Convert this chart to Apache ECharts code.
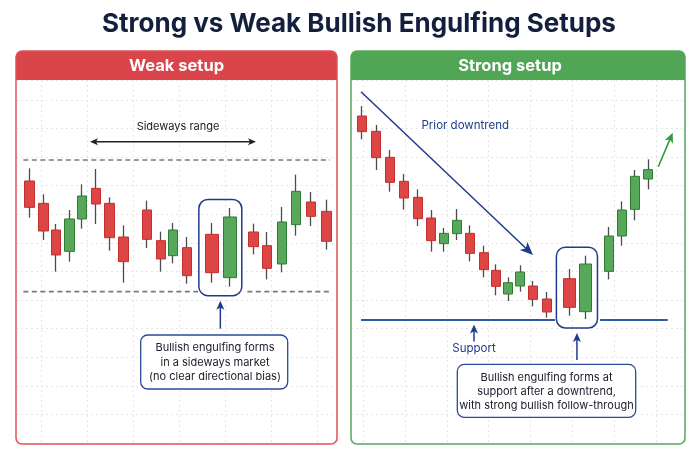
<!DOCTYPE html>
<html><head><meta charset="utf-8">
<script src="https://cdn.jsdelivr.net/npm/echarts@6/dist/echarts.min.js"></script>
<style>html,body{margin:0;padding:0;background:#fff}#c{width:700px;height:466px}</style>
</head><body><div id="c"></div>
<script>
// ---------- Weak setup (left panel) ----------
const weakPos   = [0, 1.0, 1.9, 2.9, 3.8, 4.8, 5.8, 6.8, 8.5, 9.5, 10.4, 11.4, 13.2, 14.5, 16.2, 17.2, 18.3, 19.3, 20.4, 21.5];
const weakOpen  = [113.2, 106.5, 98.5, 92.1, 101.8, 111, 106.5, 96.4, 104.5, 95.3, 90.8, 93.2, 97.2, 84.2, 97.9, 93.8, 88.3, 100.1, 106.9, 104.1];
const weakClose = [105.3, 98.2, 91, 101.8, 108.7, 106.3, 96.2, 89, 95.7, 89.8, 98.5, 84.8, 85.7, 102.4, 93.5, 87, 100.9, 110.1, 102.6, 95.1];
const weakLow   = [102.2, 95.5, 86, 89, 98.9, 100.3, 92.3, 82.7, 93.1, 86, 88.5, 82.4, 82.7, 81.5, 91.2, 83.7, 85.8, 96.8, 99.7, 92.6];
const weakHigh  = [117, 109.2, 100.3, 104.5, 112.2, 116.8, 108.3, 99.9, 107.3, 98, 100.6, 96.4, 100.6, 105.1, 100.4, 97.9, 105.4, 115.1, 109.9, 107.6];
const weakEngulf = [12, 13];
const weakRangeTop = 119.5;
const weakRangeBottom = 80;

// ---------- Strong setup (right panel) ----------
const strongPos   = [0, 1.1, 2.1, 3.15, 4.2, 5.2, 6.15, 7.1, 8.1, 9.1, 10, 10.95, 11.85, 12.8, 13.8, 15.5, 16.7, 18.45, 19.4, 20.4, 21.4];
const strongOpen  = [145.2, 140.6, 132.8, 125.6, 120.8, 114.6, 106.9, 109.9, 110, 104.2, 98.9, 91.8, 94.2, 94.2, 90.3, 96.4, 86.5, 98.6, 109.2, 117.2, 126.3];
const strongClose = [140.5, 132.7, 125.3, 120.6, 114.4, 107.8, 110, 113.9, 104, 99.1, 94.1, 95.2, 98.4, 90.2, 86.4, 87.8, 100.8, 109.2, 117, 127.1, 129.1];
const strongLow   = [138.2, 129, 122.5, 117.1, 112.2, 104.5, 104.5, 108, 101.6, 96.8, 91.4, 89.7, 92.5, 88.1, 84.7, 85.3, 84.3, 96.2, 106.3, 113.9, 123.2];
const strongHigh  = [148.2, 142.5, 135, 127.8, 123.2, 117, 111.6, 117.3, 112.4, 106.3, 100.7, 96.8, 100.4, 95.7, 92.4, 99.3, 103.3, 111.9, 119.6, 129, 132.2];
const strongEngulf = [15, 16];
const strongSupport = 84;

// ---------- Texts ----------
const titleText = 'Strong vs Weak Bullish Engulfing Setups';
const weakHeader = 'Weak setup';
const strongHeader = 'Strong setup';
const weakNote = ['Bullish engulfing forms', 'in a sideways market', '(no clear directional bias)'];
const strongNote = ['Bullish engulfing forms at', 'support after a downtrend,', 'with strong bullish follow-through'];

const FONT = 'Inter, "Liberation Sans", Arial, sans-serif';
const RED = '#de4646', RED_B = '#c0302f', GREEN = '#58a85c', GREEN_B = '#2e7d32', WICK = '#4d4d4d';
const NAVY = '#1f3c8c';

const chart = echarts.init(document.getElementById('c'));

function wickData(pos, lo, hi) { return pos.map((x, i) => [x, lo[i], lo[i], lo[i], hi[i]]); }
function bodyData(pos, o, c, idx) { return idx.map(i => [pos[i], o[i], c[i], Math.min(o[i], c[i]), Math.max(o[i], c[i])]); }
function others(n, ex) { const r = []; for (let i = 0; i < n; i++) if (!ex.includes(i)) r.push(i); return r; }

const wickStyle = { color: WICK, color0: WICK, borderColor: WICK, borderColor0: WICK, borderColorDoji: WICK, borderWidth: 1.3 };
const bodyStyle = { color: GREEN, color0: RED, borderColor: GREEN_B, borderColor0: RED_B, borderWidth: 1 };

function candleSeries(grid, pos, o, c, lo, hi, eng, w, wEng) {
  return [
    { type: 'candlestick', xAxisIndex: grid, yAxisIndex: grid, barWidth: 1, data: wickData(pos, lo, hi), itemStyle: wickStyle, silent: true, z: 3 },
    { type: 'candlestick', xAxisIndex: grid, yAxisIndex: grid, barWidth: w, data: bodyData(pos, o, c, others(pos.length, eng)), itemStyle: bodyStyle, silent: true, z: 4 },
    { type: 'candlestick', xAxisIndex: grid, yAxisIndex: grid, barWidth: wEng, data: bodyData(pos, o, c, eng), itemStyle: bodyStyle, silent: true, z: 4 }
  ];
}
function hLine(grid, x0, x1, y, style) {
  return { type: 'line', xAxisIndex: grid, yAxisIndex: grid, data: [[x0, y], [x1, y]], symbol: 'none', silent: true, lineStyle: style, z: 2 };
}
const dashStyle = { color: '#7a7a7a', type: [5, 3.5], width: 1.6 };
const supStyle = { color: '#2f58a6', width: 2 };

const gridLine = { show: true, lineStyle: { color: '#e6e6e6', type: [2, 3], width: 1 } };
const hiddenAxis = (grid, min, max) => ({ type: 'value', gridIndex: grid, show: false, min, max });
const gridAxis = (grid, max) => ({ type: 'value', gridIndex: grid, min: 0, max, interval: 1,
  axisLine: { show: false }, axisTick: { show: false }, axisLabel: { show: false }, splitLine: gridLine });

chart.setOption({
  animation: false,
  backgroundColor: '#ffffff',
  title: { text: titleText, left: 97, top: 6,
    textStyle: { fontSize: 26, fontWeight: 'bold', color: '#13203d', fontFamily: FONT } },
  grid: [
    { left: 16, top: 80, width: 321, height: 363 },      // left bg horizontal lines
    { left: 41.3, top: 80, width: 295.7, height: 363 },  // left bg vertical lines
    { left: 351, top: 80, width: 334, height: 363 },     // right bg horizontal lines
    { left: 363.2, top: 80, width: 321.8, height: 363 }, // right bg vertical lines
    { left: 15.9, top: 75, width: 324.3, height: 333.33 }, // left candles
    { left: 348.3, top: 66.67, width: 348.4, height: 300 } // right candles
  ],
  xAxis: [
    hiddenAxis(0, 0, 1), gridAxis(1, 295.7 / 46), hiddenAxis(2, 0, 1), gridAxis(3, 321.8 / 41.8),
    hiddenAxis(4, -1, 22.5), hiddenAxis(5, -1, 25)
  ],
  yAxis: [
    gridAxis(0, 363 / 28.6), hiddenAxis(1, 0, 1), gridAxis(2, 363 / 28.6), hiddenAxis(3, 0, 1),
    hiddenAxis(4, 45, 145), hiddenAxis(5, 70, 160)
  ],
  series: [
    hLine(4, -0.46, 21.76, weakRangeTop, dashStyle),
    hLine(4, -0.46, 12.2, weakRangeBottom, dashStyle),
    hLine(4, 15.77, 21.76, weakRangeBottom, dashStyle),
    hLine(5, -0.05, 14.43, strongSupport, supStyle),
    hLine(5, 17.79, 22.84, strongSupport, supStyle),
    ...candleSeries(4, weakPos, weakOpen, weakClose, weakLow, weakHigh, weakEngulf, 10, 13),
    ...candleSeries(5, strongPos, strongOpen, strongClose, strongLow, strongHigh, strongEngulf, 9.5, 12)
  ]
});

// ---------- Annotations (positioned through the axes) ----------
function px(grid, x, y) { return chart.convertToPixel({ gridIndex: grid }, [x, y]); }
function engulfBox(grid, pos, lo, hi, idx) {
  const xs = idx.map(i => px(grid, pos[i], 0)[0]);
  const top = px(grid, 0, Math.max(...idx.map(i => hi[i])))[1];
  const bot = px(grid, 0, Math.min(...idx.map(i => lo[i])))[1];
  const x0 = Math.min(...xs) - 13, x1 = Math.max(...xs) + 12;
  return { x: x0, y: top - 8.5, w: x1 - x0, h: bot - top + 17.5 };
}
function arrow(p1, p2, color, w, hl, hw, both) {
  const dx = p2[0] - p1[0], dy = p2[1] - p1[1], L = Math.hypot(dx, dy), ux = dx / L, uy = dy / L;
  const head = (t, ux, uy) => ({ type: 'polygon', z: 60, silent: true,
    shape: { points: [t, [t[0] - ux * hl - uy * hw / 2, t[1] - uy * hl + ux * hw / 2], [t[0] - ux * hl * 0.75, t[1] - uy * hl * 0.75], [t[0] - ux * hl + uy * hw / 2, t[1] - uy * hl - ux * hw / 2]] },
    style: { fill: color } });
  const s = both ? [p1[0] + ux * hl * 0.7, p1[1] + uy * hl * 0.7] : p1;
  const e = [p2[0] - ux * hl * 0.7, p2[1] - uy * hl * 0.7];
  const els = [{ type: 'line', z: 60, silent: true, shape: { x1: s[0], y1: s[1], x2: e[0], y2: e[1] }, style: { stroke: color, lineWidth: w } }, head(p2, ux, uy)];
  if (both) els.push(head(p1, -ux, -uy));
  return els;
}
function txt(text, x, y, size, color, weight, align) {
  return { type: 'text', z: 70, silent: true, style: { text, x, y, align: align || 'center', verticalAlign: 'middle',
    fontSize: size, fontFamily: FONT, fontWeight: weight || 'normal', fill: color } };
}
function noteBox(x, y, w, h, lines, cx, ys) {
  const els = [{ type: 'rect', z: 65, silent: true, shape: { x, y, width: w, height: h, r: 7 }, style: { fill: '#fff', stroke: '#2a4a9a', lineWidth: 1.3 } }];
  lines.forEach((l, i) => els.push(txt(l, cx, ys[i], 11, '#1b1b2a')));
  return els;
}
function panel(x, y, w, h, color, fill, label, lx) {
  return [
    { type: 'rect', z: 50, silent: true, shape: { x, y, width: w, height: 29, r: [6, 6, 0, 0] }, style: { fill } },
    { type: 'rect', z: 51, silent: true, shape: { x, y, width: w, height: h, r: 6 }, style: { fill: 'none', stroke: color, lineWidth: 1.5 } },
    txt(label, lx, y + 15, 16.5, '#ffffff', 'bold')
  ];
}

const wb = engulfBox(4, weakPos, weakLow, weakHigh, weakEngulf);
const sb = engulfBox(5, strongPos, strongLow, strongHigh, strongEngulf);
const wcx = wb.x + wb.w / 2, scx = sb.x + sb.w / 2;

const elements = [
  ...panel(16, 51, 321, 393, '#dc5457', '#d9454a', weakHeader, 176.5),
  ...panel(351, 51, 334, 393, '#55a85a', '#50a655', strongHeader, 510),
  { type: 'rect', z: 55, silent: true, shape: { x: wb.x, y: wb.y, width: wb.w, height: wb.h, r: 9 }, style: { fill: 'none', stroke: NAVY, lineWidth: 1.5 } },
  { type: 'rect', z: 55, silent: true, shape: { x: sb.x, y: sb.y, width: sb.w, height: sb.h, r: 9 }, style: { fill: 'none', stroke: NAVY, lineWidth: 1.5 } },
  txt('Sideways range', 178, 127, 11, '#222222'),
  ...arrow([90, 141.7], [256, 141.7], '#222222', 1.5, 8, 7, true),
  ...arrow([wcx, wb.y + wb.h + 33], [wcx, wb.y + wb.h + 5], NAVY, 1.5, 9, 8),
  ...noteBox(140.7, 335, 147, 54, weakNote, 215, [348, 362.5, 377]),
  txt('Prior downtrend', 421.5, 126, 11.5, NAVY, 'normal', 'left'),
  ...arrow([361, 91.7], [533, 255], NAVY, 1.5, 13, 11),
  ...arrow([658.3, 166.7], [672.7, 132.7], '#2f9b3f', 1.6, 10, 9),
  ...arrow([474, 341.5], [474, 324.5], NAVY, 1.5, 9, 8),
  txt('Support', 474, 348.5, 11.5, NAVY),
  ...arrow([scx, sb.y + sb.h + 32], [scx, sb.y + sb.h + 5], NAVY, 1.5, 9, 8),
  ...noteBox(457.3, 364.3, 178.4, 53, strongNote, 546.5, [377.5, 391.5, 405.5])
];
chart.setOption({ graphic: { elements } });
</script>
</body></html>
